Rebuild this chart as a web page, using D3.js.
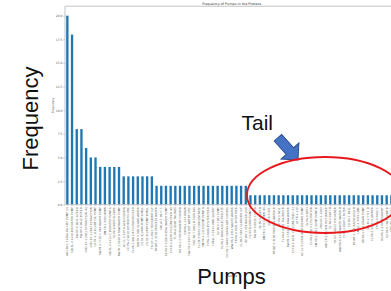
<!DOCTYPE html>
<html>
<head>
<meta charset="utf-8">
<script src="https://cdn.jsdelivr.net/npm/d3@7"></script>
<style>
  html, body { margin: 0; padding: 0; background: #fff; }
  svg { display: block; }
</style>
</head>
<body>
<div id="chart"></div>
<script>
// data (names are too small to read, so these are stand-ins)
const pumps = [
  "ASH-PA-1-12286-DA CIRC PUMP (2)", "CW-SL-2-4410-B BOOSTER PUMP", "FW-HP-3-0041-A FEED", "FW-HP-3-0042-B FEED",
  "CND-EX-1-2201 EXTRACTION (A)", "CND-EX-1-2202 EXTRACTION", "LO-TR-4-118 LUBE OIL PUMP",
  "SW-IN-2-7710-C SEA WATER PUMP", "DM-TR-1-330 DEMIN", "CW-SL-2-4411-C BOOSTER PUMP A",
  "SL-PA-6-0093 SLUDGE", "RW-IN-1-5520-D RAW WATER PUMP", "AC-CL-3-219-A ACID DOSING",
  "HC-PA-2-6610 HYDROCYCLONE", "FL-PA-1-0812-B FLOTATION FEED", "GW-TR-5-090 GLAND WATER",
  "CS-01-SLURRY-PUMP-A MILL", "CS-01-SLURRY-PUMP-B MILL", "TH-UF-4-2021 THICKENER U/F",
  "PR-WT-2-3105 PROCESS WATER", "FW-LP-1-0077-C", "SE-PA-3-1188-A SEAL WATER PUMP",
  "CY-FD-2-4030 CYCLONE FEED (B)", "TL-PA-6-0500 TAILINGS", "RG-PA-1-2703 REAGENT DOSING",
  "DR-PA-1-144 DRAIN", "HW-CR-2-6677-A HOT WATER CIRC", "CIRC-PA-7-0021-B COOLING",
  "FL-CN-3-0923 CONCENTRATE", "SM-PA-1-1410 SUMP PUMP A", "FI-PA-4-0188-B FILTER FEED",
  "LM-SL-2-3344 LIME SLURRY", "SU-PA-5-7001 SUMP", "EL-PA-2-0606-A ELECTROLYTE",
  "CO-DS-1-8810 COAGULANT DOSING", "WW-PA-3-2314 WASTE WATER", "FR-PA-6-0101-B FROTHER",
  "CL-PA-2-5501 CLARIFIER U/F", "BF-WT-1-333 BACKFLUSH", "CS-03-SLURRY-PUMP-C",
  "FW-HP-3-0043-C FEED", "SE-PA-3-1189-B", "DM-TR-1-331 DEMIN (B)", "GW-TR-5-091",
  "PR-WT-2-3106 PROCESS WATER B", "HC-PA-2-6611", "TL-PA-6-0501 TAILINGS B",
  "RW-IN-1-5521-E RAW WATER", "CY-FD-2-4031 CYCLONE FEED (C)", "LO-TR-4-119",
  "AC-CL-3-220-B ACID DOSING PUMP", "SL-PA-6-0094", "FL-PA-1-0813-C FLOTATION",
  "SM-PA-1-1411 SUMP PUMP B", "CND-EX-1-2203", "HW-CR-2-6678-B HOT WATER",
  "EL-PA-2-0607-B", "TH-UF-4-2022 THICKENER", "WW-PA-3-2315 WASTE WATER B",
  "FI-PA-4-0189-C FILTER", "CO-DS-1-8811", "BF-WT-1-334 BACKFLUSH B",
  "LM-SL-2-3345 LIME", "DR-PA-1-145 DRAIN PUMP", "SW-IN-2-7711-D",
  "CL-PA-2-5502 CLARIFIER", "FR-PA-6-0102-C", "RG-PA-1-2704 REAGENT",
  "SU-PA-5-7002 SUMP B", "CIRC-PA-7-0022-C", "FL-CN-3-0924 CONC."
];
const freq = [
  20, 18, 8, 8, 6, 5, 5,
  4, 4, 4, 4, 4,
  3, 3, 3, 3, 3, 3, 3,
  2, 2, 2, 2, 2, 2, 2, 2, 2, 2, 2, 2, 2, 2, 2, 2, 2, 2, 2, 2,
  1, 1, 1, 1, 1, 1, 1, 1, 1, 1, 1, 1, 1, 1, 1, 1,
  1, 1, 1, 1, 1, 1, 1, 1, 1, 1, 1, 1, 1, 1, 1, 1
];
const yTicks = [0, 2.5, 5, 7.5, 10, 12.5, 15, 17.5, 20];

const data = pumps.map((p, i) => ({pump: p, n: freq[i]}));

const width = 391;
const height = 291;
const plot = {left: 65, right: 398.4, top: 6.2, bottom: 204.7};

const svg = d3.select('#chart')
  .append('svg')
  .attr('width', width)
  .attr('height', height);

const xScale = d3.scaleBand()
  .domain(pumps)
  .range([plot.left, plot.right])
  .paddingInner(0.5)
  .paddingOuter(0.25);

const yScale = d3.scaleLinear()
  .domain([0, 21])
  .range([plot.bottom, plot.top]);

// title
svg.append('text')
  .attr('x', (plot.left + plot.right) / 2)
  .attr('y', 5)
  .attr('text-anchor', 'middle')
  .style('font', '3.4px "DejaVu Sans"')
  .attr('fill', '#333')
  .text('Frequency of Pumps in the Process');

// bars
svg.append('g')
  .selectAll('rect')
  .data(data)
  .join('rect')
  .attr('x', d => xScale(d.pump))
  .attr('y', d => yScale(d.n))
  .attr('width', xScale.bandwidth())
  .attr('height', d => yScale(0) - yScale(d.n))
  .attr('fill', '#1f77b4');

// y axis
const yAxis = d3.axisLeft(yScale)
  .tickValues(yTicks)
  .tickFormat(d3.format('.1f'))
  .tickSize(1.6)
  .tickPadding(1);

const gy = svg.append('g')
  .attr('transform', `translate(${plot.left}, 0)`)
  .call(yAxis);
gy.select('.domain').remove();
gy.selectAll('line').attr('stroke', '#777').attr('stroke-width', 0.4);
gy.selectAll('text').style('font', '3px "DejaVu Sans"').attr('fill', '#555');

// x axis, rotated names
const xAxis = d3.axisBottom(xScale)
  .tickSize(1.3)
  .tickPadding(1);

const gx = svg.append('g')
  .attr('transform', `translate(0, ${plot.bottom})`)
  .call(xAxis);
gx.select('.domain').remove();
gx.selectAll('line').attr('stroke', '#777').attr('stroke-width', 0.4);
gx.selectAll('text')
  .style('font', '2.8px "DejaVu Sans"')
  .attr('fill', '#555')
  .attr('text-anchor', 'end')
  .attr('dy', '0.32em')
  .attr('transform', 'translate(0, 2.5) rotate(-90)')
  .attr('x', 0)
  .attr('y', 0);

// frame
svg.append('rect')
  .attr('x', plot.left)
  .attr('y', plot.top)
  .attr('width', plot.right - plot.left)
  .attr('height', plot.bottom - plot.top)
  .attr('fill', 'none')
  .attr('stroke', '#bdbdbd')
  .attr('stroke-width', 0.9);

// small axis labels from the plot itself
svg.append('text')
  .attr('transform', `translate(53.8, ${(plot.top + plot.bottom) / 2}) rotate(-90)`)
  .attr('text-anchor', 'middle')
  .style('font', '3px "DejaVu Sans"')
  .attr('fill', '#555')
  .text('Frequency');

svg.append('text')
  .attr('x', (plot.left + plot.right) / 2)
  .attr('y', 277)
  .attr('text-anchor', 'middle')
  .style('font', '3.4px "DejaVu Sans"')
  .attr('fill', '#555')
  .text('Pumps');

// annotations pasted on top of the figure
svg.append('text')
  .attr('transform', 'translate(38, 118.5) rotate(-90)')
  .attr('text-anchor', 'middle')
  .style('font', '22px "Liberation Sans", Arial, sans-serif')
  .attr('fill', '#111')
  .text('Frequency');

svg.append('text')
  .attr('x', 231.5)
  .attr('y', 284)
  .attr('text-anchor', 'middle')
  .style('font', '22px "Liberation Sans", Arial, sans-serif')
  .attr('fill', '#111')
  .text('Pumps');

svg.append('text')
  .attr('x', 241.5)
  .attr('y', 130)
  .style('font', '21px "Liberation Sans", Arial, sans-serif')
  .attr('fill', '#111')
  .text('Tail');

// blue block arrow
svg.append('path')
  .attr('transform', 'translate(298, 160) rotate(48)')
  .attr('d', 'M0,0 L-12,-12 L-12,-5 L-30,-5 L-30,5 L-12,5 L-12,12 Z')
  .attr('fill', '#4472c4')
  .attr('stroke', '#2f528f')
  .attr('stroke-width', 1);

// red ellipse round the tail
svg.append('ellipse')
  .attr('cx', 325)
  .attr('cy', 195)
  .attr('rx', 78)
  .attr('ry', 38)
  .attr('fill', 'none')
  .attr('stroke', '#e8191c')
  .attr('stroke-width', 1.8);
</script>
</body>
</html>
